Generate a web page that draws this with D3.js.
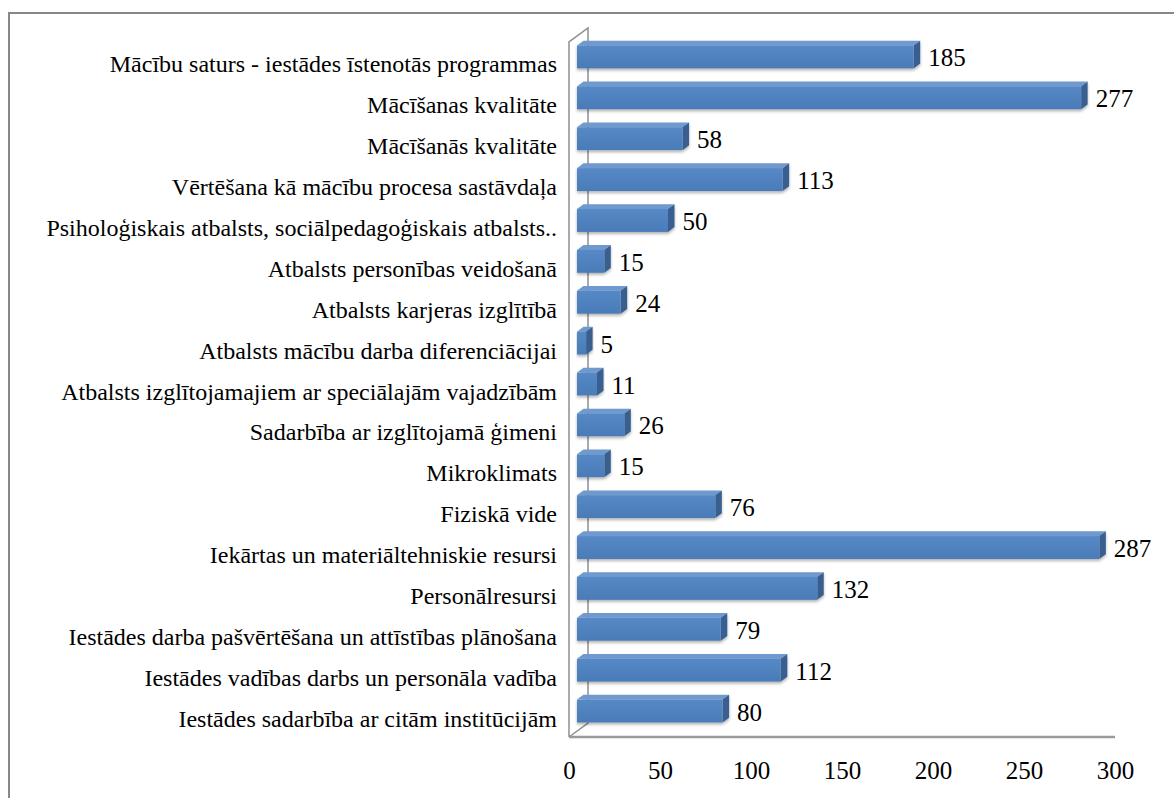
<!DOCTYPE html>
<html>
<head>
<meta charset="utf-8">
<script src="https://cdn.jsdelivr.net/npm/d3@7"></script>
<style>
  body { margin: 0; background: #fff; }
  svg text { font-family: "Liberation Serif", "Times New Roman", serif; fill: #000; }
</style>
</head>
<body>
<div id="chart"></div>
<script>
(function() {
  var categories = [
    'Mācību saturs - iestādes īstenotās programmas',
    'Mācīšanas kvalitāte',
    'Mācīšanās kvalitāte',
    'Vērtēšana kā mācību procesa sastāvdaļa',
    'Psiholoģiskais atbalsts, sociālpedagoģiskais atbalsts..',
    'Atbalsts personības veidošanā',
    'Atbalsts karjeras izglītībā',
    'Atbalsts mācību darba diferenciācijai',
    'Atbalsts izglītojamajiem ar speciālajām vajadzībām',
    'Sadarbība ar izglītojamā ģimeni',
    'Mikroklimats',
    'Fiziskā vide',
    'Iekārtas un materiāltehniskie resursi',
    'Personālresursi',
    'Iestādes darba pašvērtēšana un attīstības plānošana',
    'Iestādes vadības darbs un personāla vadība',
    'Iestādes sadarbība ar citām institūcijām'
  ];
  var values = [185, 277, 58, 113, 50, 15, 24, 5, 11, 26, 15, 76, 287, 132, 79, 112, 80];
  var xTicks = [0, 50, 100, 150, 200, 250, 300];

  var width = 1174,
      height = 798,
      x0 = 569,            // front plane left edge
      top = 42,
      bottom = 737,
      depth = { dx: 19, dy: -14 },   // wall depth offset
      barShift = { dx: 8, dy: -5.5 }, // bar front face relative to front plane
      barDepth = { dx: 6.5, dy: -4.8 };

  var x = d3.scaleLinear().domain([0, 300]).range([0, 546]),
      y = d3.scaleBand().domain(categories).range([top, bottom]).paddingInner(0.44).paddingOuter(0.22);
  var band = d3.scaleBand().domain(categories).range([top, bottom]);

  var svg = d3.select('#chart').append('svg')
    .attr('width', width)
    .attr('height', height);

  var defs = svg.append('defs');
  var grad = defs.append('linearGradient').attr('id', 'front')
    .attr('x1', 0).attr('y1', 0).attr('x2', 0).attr('y2', 1);
  grad.append('stop').attr('offset', '0%').attr('stop-color', '#5589c6');
  grad.append('stop').attr('offset', '100%').attr('stop-color', '#4a7bb7');
  var f = defs.append('filter').attr('id', 'shadow')
    .attr('x', '-5%').attr('y', '-30%').attr('width', '110%').attr('height', '170%');
  f.append('feDropShadow').attr('dx', 0).attr('dy', 2).attr('stdDeviation', 1.5)
    .attr('flood-color', '#000').attr('flood-opacity', 0.3);

  // outer frame
  svg.append('rect')
    .attr('x', 9).attr('y', 13)
    .attr('width', width + 10).attr('height', height + 10)
    .attr('fill', 'none').attr('stroke', '#878787').attr('stroke-width', 2);

  // left wall and floor
  var wall = svg.append('g').attr('fill', 'none').attr('stroke', '#8e8e8e').attr('stroke-width', 1.5);
  wall.append('path').attr('d',
    'M' + x0 + ',' + bottom + 'V' + top +
    'L' + (x0 + depth.dx) + ',' + (top + depth.dy) +
    'V' + (bottom + depth.dy) +
    'L' + x0 + ',' + bottom);
  svg.append('line')
    .attr('x1', x0).attr('x2', x0 + x(300))
    .attr('y1', bottom).attr('y2', bottom)
    .attr('stroke', '#9a9a9a').attr('stroke-width', 2.5);

  // bars
  var bars = svg.append('g').selectAll('g')
    .data(values)
    .join('g')
      .attr('filter', 'url(#shadow)');

  var bx = x0 + barShift.dx;
  function by(d, i) { return y(categories[i]) + barShift.dy; }
  var bh = y.bandwidth();

  bars.append('path')
    .attr('fill', '#6f99cf')
    .attr('d', function(d, i) {
      var yy = by(d, i), w = x(d);
      return 'M' + bx + ',' + yy + 'L' + (bx + barDepth.dx) + ',' + (yy + barDepth.dy) +
        'H' + (bx + w + barDepth.dx) + 'L' + (bx + w) + ',' + yy + 'Z';
    });
  bars.append('path')
    .attr('fill', '#395f8f')
    .attr('d', function(d, i) {
      var yy = by(d, i), w = x(d);
      return 'M' + (bx + w) + ',' + yy + 'L' + (bx + w + barDepth.dx) + ',' + (yy + barDepth.dy) +
        'V' + (yy + bh + barDepth.dy) + 'L' + (bx + w) + ',' + (yy + bh) + 'Z';
    });
  bars.append('rect')
    .attr('x', bx)
    .attr('y', function(d, i) { return by(d, i); })
    .attr('width', function(d) { return x(d); })
    .attr('height', bh)
    .attr('fill', 'url(#front)');

  // value labels
  svg.append('g').selectAll('text')
    .data(values)
    .join('text')
      .attr('x', function(d) { return bx + x(d) + barDepth.dx + 8; })
      .attr('y', function(d, i) { return by(d, i) + bh / 2 + 1; })
      .attr('dominant-baseline', 'central')
      .style('font-size', '25px')
      .text(function(d) { return d; });

  // category labels
  svg.append('g').selectAll('text')
    .data(categories)
    .join('text')
      .attr('x', 557)
      .attr('y', function(d) { return band(d) + band.bandwidth() / 2 + 2; })
      .attr('text-anchor', 'end')
      .attr('dominant-baseline', 'central')
      .style('font-size', '24px')
      .text(function(d) { return d; });

  // x axis labels
  var xAxis = d3.axisBottom(x).tickValues(xTicks).tickSize(0).tickPadding(0);
  var gx = svg.append('g')
    .attr('transform', 'translate(' + x0 + ',' + 770 + ')')
    .call(xAxis);
  gx.select('.domain').remove();
  gx.attr('font-family', null).attr('font-size', null);
  gx.selectAll('text')
    .attr('y', 0).attr('dy', null)
    .attr('dominant-baseline', 'central')
    .style('font-size', '25px')
    .attr('fill', '#000');
})();
</script>
</body>
</html>
